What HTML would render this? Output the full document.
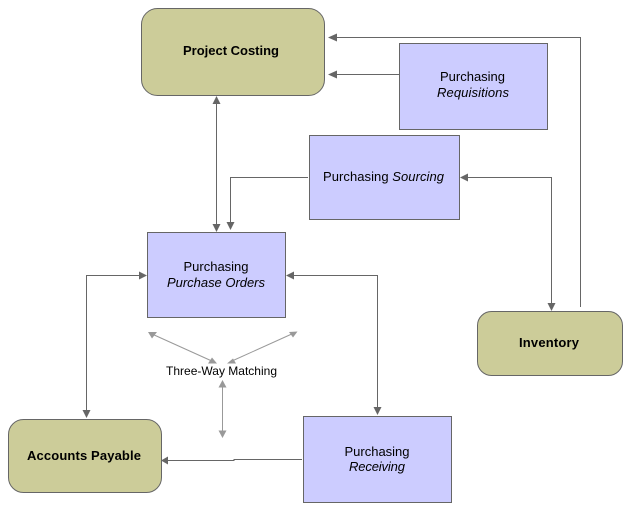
<!DOCTYPE html>
<html><head><meta charset="utf-8"><style>
html,body{margin:0;padding:0;background:#fff;width:631px;height:513px;overflow:hidden}
svg{display:block}
text{font-family:"Liberation Sans",sans-serif;font-size:13px;fill:#000;text-anchor:middle}
.b{font-weight:bold}.i{font-style:italic}
.o{fill:#cccc99;stroke:#666;stroke-width:1}
.p{fill:#ccccff;stroke:#666;stroke-width:1}
.l{fill:none;stroke:#666;stroke-width:1}
.g{fill:none;stroke:#999;stroke-width:1}
.ah{fill:#666}.ag{fill:#999}
</style></head><body>
<svg width="631" height="513" viewBox="0 0 631 513" xmlns="http://www.w3.org/2000/svg">
<rect class="o" x="141.5" y="8.5" width="183" height="87" rx="16"/>
<rect class="o" x="8.5" y="419.5" width="153" height="73" rx="15"/>
<rect class="o" x="477.5" y="311.5" width="145" height="64" rx="14"/>
<rect class="p" x="399.5" y="43.5" width="148" height="86"/>
<rect class="p" x="309.5" y="135.5" width="150" height="84"/>
<rect class="p" x="147.5" y="232.5" width="138" height="85"/>
<rect class="p" x="303.5" y="416.5" width="148" height="86"/>

<path class="l" d="M580.5 307V37.5H333"/>
<path class="l" d="M399 74.5H333"/>
<path class="l" d="M216.5 102V226"/>
<path class="l" d="M308 177.5H230.5V224"/>
<path class="l" d="M466 177.5H551.5V305"/>
<path class="l" d="M139 275.5H86.5V412"/>
<path class="l" d="M292 275.5H377.5V409"/>
<path class="l" d="M302 459.5H234V460.5H168"/>

<path class="ah" d="M328 37.5L337 33.5V41.5Z"/>
<path class="ah" d="M328 74.5L337 70.5V78.5Z"/>
<path class="ah" d="M216.5 96L212.5 104H220.5Z"/>
<path class="ah" d="M216.5 232L212.5 224H220.5Z"/>
<path class="ah" d="M230.5 230L226.5 222H234.5Z"/>
<path class="ah" d="M460 177.5L468 173.5V181.5Z"/>
<path class="ah" d="M551.5 311L547.5 303H555.5Z"/>
<path class="ah" d="M147 275.5L139 271.5V279.5Z"/>
<path class="ah" d="M286 275.5L294 271.5V279.5Z"/>
<path class="ah" d="M86.5 418L82.5 410H90.5Z"/>
<path class="ah" d="M377.5 415L373.5 407H381.5Z"/>
<path class="ah" d="M161 460.5L168 456.5V464.5Z"/>

<path class="g" d="M152 334L214 362"/>
<path class="g" d="M294 333L232 361"/>
<path class="g" d="M222.5 384V432"/>
<path class="ag" d="M148 332L157 332L152 338.500Z"/>
<path class="ag" d="M217 363.500L212 357.500L208 363.500Z"/>
<path class="ag" d="M297.500 331.500L289 332L293 337.500Z"/>
<path class="ag" d="M227 363.500L233 358.500L236 363.500Z"/>
<path class="ag" d="M222.500 380L218.500 387.500H226.500Z"/>
<path class="ag" d="M222.500 438L218.500 430.500H226.500Z"/>

<text class="b" x="231" y="55" textLength="96">Project Costing</text>
<text class="b" x="84" y="460" textLength="114">Accounts Payable</text>
<text class="b" x="549" y="347" textLength="60">Inventory</text>
<text x="472.500" y="81" textLength="65">Purchasing</text>
<text class="i" x="473" y="97" textLength="72">Requisitions</text>
<text x="383.500" y="181" textLength="121">Purchasing <tspan class="i">Sourcing</tspan></text>
<text x="216" y="271" textLength="65">Purchasing</text>
<text class="i" x="216" y="287" textLength="98">Purchase Orders</text>
<text x="377" y="456" textLength="65">Purchasing</text>
<text class="i" x="377" y="471" textLength="56">Receiving</text>
<text style="font-size:12px" x="221.500" y="375" textLength="111">Three-Way Matching</text>
</svg>
</body></html>
